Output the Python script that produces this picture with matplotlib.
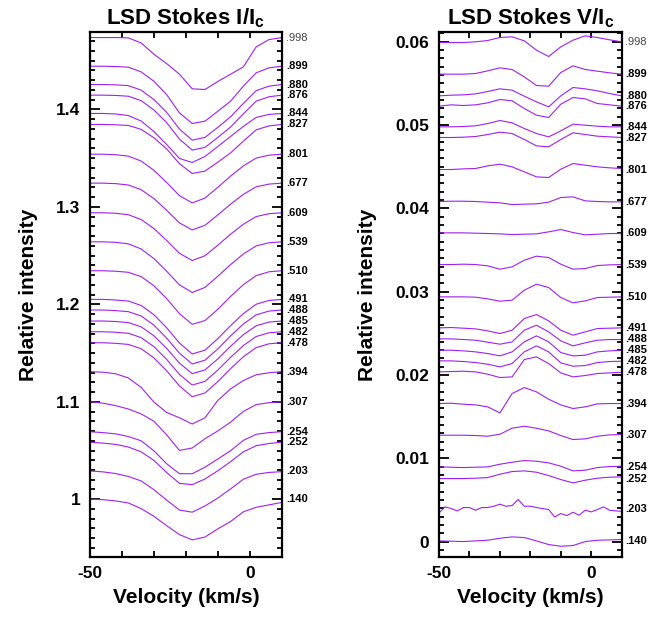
import matplotlib
matplotlib.use('Agg')
import matplotlib.pyplot as plt
from matplotlib.ticker import MultipleLocator, FuncFormatter

plt.rcParams['font.family'] = ['Liberation Sans', 'DejaVu Sans']
plt.rcParams['font.weight'] = 'bold'
plt.rcParams['mathtext.fontset'] = 'custom'
plt.rcParams['mathtext.rm'] = 'Liberation Sans:bold'
plt.rcParams['mathtext.it'] = 'Liberation Sans:bold'

# velocity grid (km/s)
velocity = [-50, -46, -42, -38, -34, -30, -26, -22, -18, -14, -10, -6, -2, 2, 6, 10]
velocity_fine = [-50, -48, -46, -44, -42, -40, -38, -36, -34, -32, -30, -28, -26, -24, -22, -20,
                 -18, -16, -14, -12, -10, -8, -6, -4, -2, 0, 2, 4, 6, 8, 10]

phases = ['.998', '.899', '.880', '.876', '.844', '.827', '.801', '.677', '.609', '.539', '.510',
          '.491', '.488', '.485', '.482', '.478', '.394', '.307', '.254', '.252', '.203', '.140']

# vertical shifts of each profile
shift_I = [0.4738, 0.4444, 0.4256, 0.4147, 0.3959, 0.3846, 0.3541, 0.3244, 0.2940, 0.2642, 0.2345,
           0.2051, 0.1942, 0.1829, 0.1719, 0.1606, 0.1309, 0.1001, 0.0693, 0.0585, 0.0290, 0.0]
shift_V = [0.0599, 0.0561, 0.0535, 0.05226, 0.04978, 0.0485, 0.04466, 0.04082, 0.03706, 0.03326, 0.02938,
           0.02566, 0.02434, 0.02298, 0.0217, 0.02038, 0.01658, 0.01278, 0.00898, 0.00758, 0.00398, 0.0001]

# Stokes I / Ic
I_998 = [1.0, 1.0, 1.0, 0.9997, 0.9945, 0.9829, 0.9733, 0.9624, 0.9474, 0.9467, 0.9549, 0.9624, 0.9699, 0.9904, 0.9979, 1.0]
I_899 = [1.0, 1.0, 0.9997, 0.999, 0.9942, 0.9846, 0.9709, 0.9521, 0.9412, 0.9436, 0.9538, 0.9641, 0.9795, 0.9932, 0.9983, 1.0]
I_880 = [1.0, 1.0, 0.9997, 0.9989, 0.9943, 0.9846, 0.9715, 0.9543, 0.9429, 0.9458, 0.9560, 0.9669, 0.9806, 0.9937, 0.9983, 1.0]
I_876 = [1.0, 1.0, 0.9997, 0.9989, 0.9944, 0.9848, 0.9718, 0.9549, 0.9436, 0.9464, 0.9566, 0.9673, 0.9808, 0.9938, 0.9983, 1.0]
I_844 = [1.0, 1.0, 0.9995, 0.9979, 0.9923, 0.9815, 0.9682, 0.9538, 0.9497, 0.9559, 0.9661, 0.9764, 0.9867, 0.9959, 0.999, 1.0]
I_827 = [1.0, 1.0, 0.9997, 0.999, 0.995, 0.9864, 0.9749, 0.9598, 0.9497, 0.9522, 0.9613, 0.9708, 0.9829, 0.9945, 0.9985, 1.0]
I_801 = [1.0, 1.0, 0.9995, 0.998, 0.993, 0.9835, 0.971, 0.9575, 0.95, 0.955, 0.966, 0.9775, 0.988, 0.996, 0.999, 1.0]
I_677 = [1.0, 1.0, 0.9995, 0.9981, 0.9933, 0.9842, 0.9722, 0.9592, 0.952, 0.9568, 0.9674, 0.9784, 0.9885, 0.9962, 0.999, 1.0]
I_609 = [1.0, 1.0, 0.9995, 0.998, 0.9931, 0.9838, 0.9716, 0.9584, 0.951, 0.9559, 0.9667, 0.978, 0.9882, 0.9961, 0.999, 1.0]
I_539 = [1.0, 1.0, 0.9995, 0.9979, 0.9927, 0.9828, 0.9698, 0.9558, 0.948, 0.9532, 0.9646, 0.9766, 0.9875, 0.9958, 0.999, 1.0]
I_510 = [1.0, 1.0, 0.9995, 0.9984, 0.994, 0.9846, 0.9714, 0.956, 0.945, 0.9489, 0.9604, 0.9736, 0.9857, 0.995, 0.9989, 1.0]
I_491 = [1.0, 1.0, 0.9994, 0.9983, 0.9938, 0.9843, 0.9709, 0.9552, 0.944, 0.9479, 0.9597, 0.9731, 0.9854, 0.995, 0.9989, 1.0]
I_488 = [1.0, 1.0, 0.9994, 0.9983, 0.9939, 0.9845, 0.9712, 0.9557, 0.9446, 0.9485, 0.9601, 0.9734, 0.9856, 0.995, 0.9989, 1.0]
I_485 = [1.0, 1.0, 0.9995, 0.9984, 0.9941, 0.9849, 0.9719, 0.9568, 0.946, 0.9498, 0.9611, 0.9741, 0.986, 0.9951, 0.9989, 1.0]
I_482 = [1.0, 1.0, 0.9995, 0.9984, 0.994, 0.9847, 0.9716, 0.9562, 0.9453, 0.9491, 0.9606, 0.9737, 0.9858, 0.9951, 0.9989, 1.0]
I_478 = [1.0, 1.0, 0.9994, 0.9983, 0.9939, 0.9845, 0.9712, 0.9557, 0.9446, 0.9485, 0.9601, 0.9734, 0.9856, 0.995, 0.9989, 1.0]
I_394 = [1.0, 0.9995, 0.9979, 0.9936, 0.9839, 0.9689, 0.9581, 0.9527, 0.9463, 0.9527, 0.9705, 0.9823, 0.9909, 0.9968, 0.9989, 1.0]
I_307 = [1.0, 0.9985, 0.996, 0.9925, 0.9875, 0.98, 0.966, 0.95, 0.9525, 0.962, 0.97, 0.979, 0.99, 0.997, 0.999, 1.0]
I_254 = [1.0, 0.9991, 0.9978, 0.9951, 0.9907, 0.9805, 0.9671, 0.9569, 0.9569, 0.9636, 0.972, 0.9805, 0.9911, 0.9973, 0.9991, 1.0]
I_252 = [1.0, 0.9991, 0.9978, 0.9951, 0.9902, 0.9814, 0.9689, 0.9578, 0.9565, 0.9623, 0.9707, 0.98, 0.9902, 0.9964, 0.9987, 1.0]
I_203 = [1.0, 0.9991, 0.9974, 0.9944, 0.9898, 0.9808, 0.9701, 0.9599, 0.9577, 0.9641, 0.9722, 0.9816, 0.9915, 0.9966, 0.9985, 0.9993]
I_140 = [1.0, 0.9996, 0.9983, 0.9962, 0.9904, 0.9825, 0.9729, 0.9637, 0.9583, 0.9612, 0.9696, 0.9771, 0.9871, 0.9917, 0.9942, 0.9967]

# Stokes V / Ic
V_998 = [0, 0, 0, .00008, .00024, .0006, .00068, .0002, -.00092, -.00168, -.00052, .00028, .0008, .0006, .00032, .00008]
V_899 = [0, 0, 0, .00008, .0004, .00076, .00056, -.00032, -.00136, -.00144, .0002, .001, .00056, .00036, .00016, 0]
V_880 = [0, .00008, .00012, .00024, .00052, .00084, .00068, -.00004, -.00072, -.00132, 0, .001, .00084, .0006, .00028, 0]
V_876 = [0, .00016, .00008, .00016, .0004, .0008, .00064, -.00028, -.00108, -.00136, .00024, .00104, .00088, .00032, .00016, 0]
V_844 = [0, 0, .00004, .00012, .0004, .00076, .00048, -.0002, -.0008, -.0012, -.00048, .00032, .0002, .00008, 0, 0]
V_827 = [0, 0, .00004, .00012, .00036, .00064, .00048, -.00024, -.001, -.00112, -.00024, .00056, .00036, .00016, .00008, 0]
V_801 = [0, 0, .00008, .00012, .00044, .00064, .00032, -.00028, -.00088, -.00096, .00004, .00072, .00052, .00032, .0002, .00012]
V_677 = [0, .00004, .00004, 0, -.00008, -.00016, -.00036, -.00032, -.00028, -.00008, .00048, .00056, .00008, 0, -.00004, -.00004]
V_609 = [0, 0, 0, -.00004, -.00008, -.00012, -.0002, -.00016, -.00012, .00012, .0004, .00004, -.00024, -.00016, -.00008, -.00008]
V_539 = [0, 0, .00004, 0, -.00016, -.00056, -.00028, .00052, .001, .00084, .00004, -.00056, -.00048, -.00012, -.00004, 0]
V_510 = [0, 0, 0, -.00004, -.00024, -.00052, -.0004, .0008, .00152, .00112, -.00008, -.00072, -.00048, -.00008, -.00004, 0]
V_491 = [0, .00004, -.00004, -.00012, -.00036, -.00068, -.00028, .00112, .0016, .00084, -.00028, -.00088, -.00048, -.00008, -.00004, 0]
V_488 = [0, 0, -.00008, -.00016, -.0004, -.00064, -.00036, .00104, .00164, .00084, -.00024, -.00084, -.00048, -.00016, -.00008, -.00008]
V_485 = [0, 0, -.00008, -.0002, -.0004, -.00068, -.0002, .001, .00172, .001, -.00028, -.00068, -.0006, -.0002, -.00008, 0]
V_482 = [0, 0, -.00008, -.0002, -.0004, -.00072, -.00032, .00108, .0018, .00108, -.00024, -.00064, -.00056, -.0002, -.00008, -.00004]
V_478 = [0, .00004, .00008, 0, -.00028, -.00068, -.0006, .00148, .0018, .001, -.00012, -.0006, -.00044, -.0002, -.00012, -.00004]
V_394 = [0, .00004, -.00008, -.00016, -.0004, -.00112, .0012, .00192, .0014, .00052, -.00016, -.0006, -.0004, -.00004, 0, 0]
V_307 = [0, 0, 0, -.00004, -.00012, .00012, .00084, .00108, .00084, .00052, -.00004, -.00052, -.00044, -.00012, .00004, .00008]
V_254 = [0, -.00004, -.00008, -.00004, 0, .00032, .00056, .00076, .00068, .00048, .00008, -.00048, -.0004, -.00008, .00004, .00008]
V_252 = [0, 0, 0, .00004, .00012, .00052, .00084, .00092, .00076, .00036, -.00012, -.00052, -.0002, .00004, .00016, .0002]
V_203 = [-.00052, .0002, 0, -.00028, .00012, .00012, -.0002, .00012, .00012, .00028, .00052, .00028, .00036, .00108, .00028, .00028,
         .00012, 0, -.00012, -.001, -.0006, -.00084, -.00044, -.0008, -.0002, -.0004, -.00012, .0002, -.0002, -.00028, -.00032]
V_140 = [0, -.00004, -.00008, 0, .00008, .00032, .00048, .0004, 0, -.00044, -.00064, -.00056, -.00008, .00008, .00012, .00016]

I_profiles = [I_998, I_899, I_880, I_876, I_844, I_827, I_801, I_677, I_609, I_539, I_510,
              I_491, I_488, I_485, I_482, I_478, I_394, I_307, I_254, I_252, I_203, I_140]
V_profiles = [V_998, V_899, V_880, V_876, V_844, V_827, V_801, V_677, V_609, V_539, V_510,
              V_491, V_488, V_485, V_482, V_478, V_394, V_307, V_254, V_252, V_203, V_140]

line_col = '#a020f0'

fig = plt.figure(figsize=(6.65, 6.19), dpi=100)
ax1 = fig.add_axes([0.1353, 0.1006, 0.2883, 0.8469])
ax2 = fig.add_axes([0.6602, 0.1006, 0.2747, 0.8469])

for k in range(len(phases)):
    ax1.plot(velocity, [p + shift_I[k] for p in I_profiles[k]], color=line_col, lw=0.8)
    vv = velocity_fine if phases[k] == '.203' else velocity
    ax2.plot(vv, [p + shift_V[k] for p in V_profiles[k]], color=line_col, lw=0.8)
    if phases[k] == '.998':
        kw = dict(color='#444444', fontweight='normal')
    else:
        kw = dict(color='black', fontweight='bold')
    ax1.text(1.025, 1.0 + shift_I[k], phases[k], transform=ax1.get_yaxis_transform(),
             fontsize=8, ha='left', va='center', **kw)
    ax2.text(1.018, shift_V[k], phases[k], transform=ax2.get_yaxis_transform(),
             fontsize=8, ha='left', va='center', **kw)

fmt = FuncFormatter(lambda x, pos: '%g' % round(x, 4))

ax1.set_xlim(-50, 10)
ax1.set_ylim(0.941, 1.479)
ax1.yaxis.set_major_locator(MultipleLocator(0.1))
ax1.yaxis.set_minor_locator(MultipleLocator(0.01))

ax2.set_xlim(-50, 10)
ax2.set_ylim(-0.0018, 0.0611)
ax2.yaxis.set_major_locator(MultipleLocator(0.01))
ax2.yaxis.set_minor_locator(MultipleLocator(0.001))

for ax in (ax1, ax2):
    ax.xaxis.set_major_locator(MultipleLocator(50))
    ax.xaxis.set_minor_locator(MultipleLocator(10))
    ax.xaxis.set_major_formatter(fmt)
    ax.yaxis.set_major_formatter(fmt)
    ax.tick_params(which='both', direction='in', top=True, right=True, width=1.3, labelsize=12.5)
    ax.tick_params(axis='x', which='both', length=4, pad=7)
    ax.tick_params(axis='y', which='major', length=7, pad=7)
    ax.tick_params(axis='y', which='minor', length=3.5)
    for s in ax.spines.values():
        s.set_linewidth(1.6)
    ax.set_xlabel('Velocity (km/s)', fontsize=15, fontweight='bold', labelpad=5)

ax1.set_ylabel('Relative intensity', fontsize=15, fontweight='bold', labelpad=13)
ax2.set_ylabel('Relative intensity', fontsize=15, fontweight='bold', labelpad=13)
ax1.set_title('LSD Stokes I/I$_\\mathrm{c}$', fontsize=16, fontweight='bold', pad=6)
ax2.set_title('LSD Stokes V/I$_\\mathrm{c}$', fontsize=16, fontweight='bold', pad=6)

fig.savefig('out.png', dpi=100)
